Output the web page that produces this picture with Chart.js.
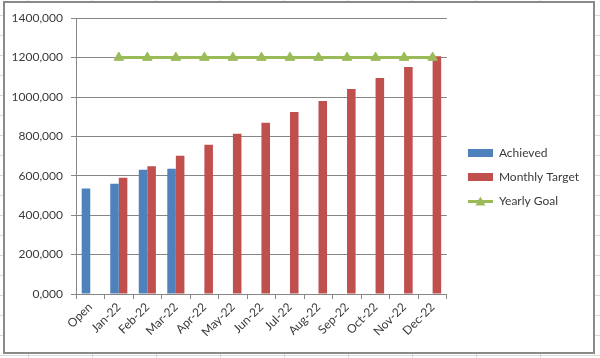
<!DOCTYPE html>
<html>
<head>
<meta charset="utf-8">
<script src="https://cdn.jsdelivr.net/npm/chart.js@4.4.0/dist/chart.umd.min.js"></script>
<style>
    html, body { margin: 0; padding: 0; }
    body {
        width: 600px;
        height: 358px;
        overflow: hidden;
        position: relative;
        background-color: #fff;
        /* spreadsheet cells behind the chart */
        background-image:
            linear-gradient(to right, #d9d9d9 1px, transparent 1px),
            linear-gradient(to bottom, #d9d9d9 1px, transparent 1px);
        background-size: 64px 20px;
        background-position: 28px 15px;
    }
    #chartBox {
        position: absolute;
        left: 3px;
        top: 1px;
        width: 592px;
        height: 353px;
        box-sizing: border-box;
        border: 2px solid #8a8a8a;
        background: #fff;
    }
    canvas { display: block; }
</style>
</head>
<body>
<div id="chartBox">
    <canvas id="goalChart" width="588" height="349"></canvas>
</div>
<script>
// Chart data
const categories = ['Open', 'Jan-22', 'Feb-22', 'Mar-22', 'Apr-22', 'May-22', 'Jun-22',
    'Jul-22', 'Aug-22', 'Sep-22', 'Oct-22', 'Nov-22', 'Dec-22'];
const achieved = [535000, 560000, 631000, 636000, null, null, null, null, null, null, null, null, null];
const monthlyTarget = [null, 590000, 648000, 702000, 757000, 813000, 869000, 924000, 980000, 1040000, 1096000, 1152000, 1207000];
const yearlyGoal = [null, 1200000, 1200000, 1200000, 1200000, 1200000, 1200000, 1200000, 1200000, 1200000, 1200000, 1200000, 1200000];
const yTicks = { min: 0, max: 1400000, step: 200000 };

const BLUE = '#4f81bd';
const RED = '#c0504d';
const GREEN = '#9bbb59';
const TEXT = '#3a3a3a';
const AXIS = '#868686';
const FONT = 'Lato, "Liberation Sans", sans-serif';

// Legend symbols are drawn on small canvases; the blank left margin
// gives the gap between the plot area and the legend
const SYMBOL_W = 34;
const SYMBOL_PAD = 9;

function makeRectSymbol(color) {
    const c = document.createElement('canvas');
    c.width = SYMBOL_W;
    c.height = 12;
    const g = c.getContext('2d');
    g.fillStyle = color;
    g.fillRect(SYMBOL_PAD, 2, SYMBOL_W - SYMBOL_PAD, 8);
    return c;
}

function makeLineSymbol(color) {
    const c = document.createElement('canvas');
    c.width = SYMBOL_W;
    c.height = 12;
    const g = c.getContext('2d');
    g.strokeStyle = color;
    g.lineWidth = 3;
    g.beginPath();
    g.moveTo(SYMBOL_PAD, 6.5);
    g.lineTo(SYMBOL_W, 6.5);
    g.stroke();
    const cx = SYMBOL_PAD + (SYMBOL_W - SYMBOL_PAD) / 2;
    g.fillStyle = color;
    g.beginPath();
    g.moveTo(cx, 1.5);
    g.lineTo(cx + 5, 10.5);
    g.lineTo(cx - 5, 10.5);
    g.closePath();
    g.fill();
    return c;
}

const legendSymbols = [makeRectSymbol(BLUE), makeRectSymbol(RED), makeLineSymbol(GREEN)];

const ctx = document.getElementById('goalChart').getContext('2d');
const chart = new Chart(ctx, {
    type: 'bar',
    data: {
        labels: categories,
        datasets: [{
            label: 'Achieved',
            data: achieved,
            backgroundColor: BLUE,
            categoryPercentage: 0.6,
            barPercentage: 1.0,
            order: 2
        }, {
            label: 'Monthly Target',
            data: monthlyTarget,
            backgroundColor: RED,
            categoryPercentage: 0.6,
            barPercentage: 1.0,
            order: 2
        }, {
            type: 'line',
            label: 'Yearly Goal',
            data: yearlyGoal,
            borderColor: GREEN,
            backgroundColor: GREEN,
            borderWidth: 3,
            pointStyle: 'triangle',
            pointRadius: 5.5,
            pointBorderWidth: 1,
            pointBackgroundColor: GREEN,
            pointBorderColor: GREEN,
            fill: false,
            order: 1
        }]
    },
    options: {
        responsive: false,
        animation: false,
        layout: {
            padding: { left: 0, right: 4, top: 14, bottom: 15 }
        },
        plugins: {
            tooltip: { enabled: false },
            legend: {
                position: 'right',
                labels: {
                    usePointStyle: true,
                    pointStyleWidth: SYMBOL_W,
                    boxHeight: 8,
                    padding: 12,
                    color: TEXT,
                    font: { family: FONT, size: 12 },
                    sort: (a, b) => a.datasetIndex - b.datasetIndex,
                    generateLabels(chart) {
                        const items = Chart.defaults.plugins.legend.labels.generateLabels(chart);
                        items.forEach(item => {
                            item.pointStyle = legendSymbols[item.datasetIndex];
                            item.lineWidth = 0;
                        });
                        return items;
                    }
                }
            }
        },
        scales: {
            x: {
                offset: true,
                grid: {
                    offset: true,
                    drawOnChartArea: false,
                    drawTicks: true,
                    tickLength: 5,
                    color: AXIS
                },
                border: { color: AXIS },
                ticks: {
                    autoSkip: false,
                    minRotation: 45,
                    maxRotation: 45,
                    padding: 1,
                    color: TEXT,
                    font: { family: FONT, size: 12 }
                },
                afterFit(scale) {
                    scale.height = 43;
                }
            },
            y: {
                min: yTicks.min,
                max: yTicks.max,
                grid: {
                    color: AXIS,
                    tickLength: 5
                },
                border: { color: AXIS },
                ticks: {
                    stepSize: yTicks.step,
                    padding: 8,
                    color: TEXT,
                    font: { family: FONT, size: 12 },
                    callback: v => (v / 1000) + ',000'
                },
                afterFit(scale) {
                    scale.width = 71;
                }
            }
        }
    }
});
</script>
</body>
</html>
